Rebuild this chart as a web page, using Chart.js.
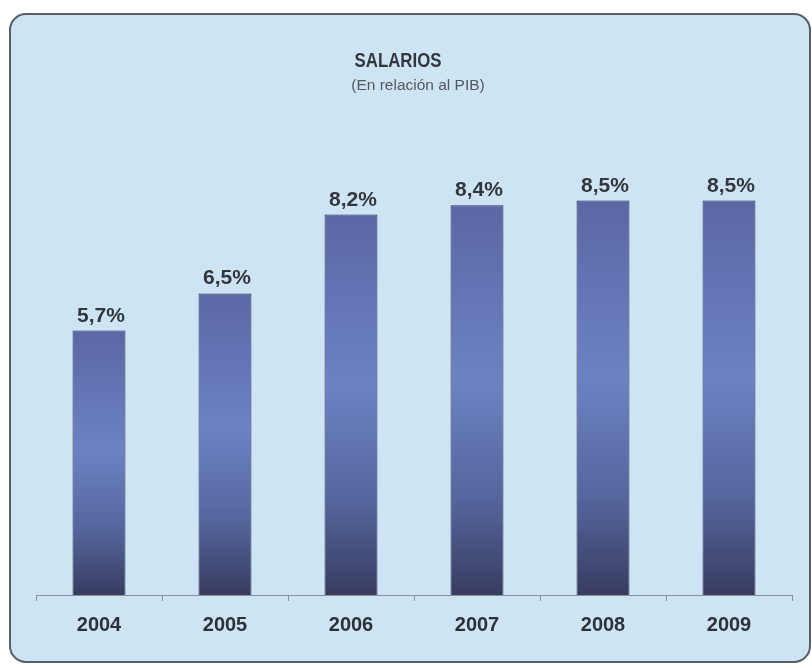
<!DOCTYPE html>
<html>
<head>
<meta charset="utf-8">
<script src="https://cdn.jsdelivr.net/npm/chart.js@4.4.0/dist/chart.umd.min.js"></script>
<style>
  html, body { margin: 0; padding: 0; background: #ffffff; }
  #wrap { width: 812px; height: 668px; }
</style>
</head>
<body>
<div id="wrap"><canvas id="myChart" width="812" height="668"></canvas></div>
<script>
// datos del grafico
var anios = ['2004', '2005', '2006', '2007', '2008', '2009'];
var salarios = [5.7, 6.5, 8.2, 8.4, 8.5, 8.5];
var titulo = 'SALARIOS';
var subtitulo = '(En relación al PIB)';

// fondo con borde redondeado
var fondo = {
    id: 'fondo',
    beforeDraw: function(chart) {
        var ctx = chart.ctx;
        ctx.save();
        ctx.beginPath();
        ctx.roundRect(10, 14, 800, 648, 16);
        ctx.fillStyle = '#cde4f4';
        ctx.fill();
        ctx.lineWidth = 2;
        ctx.strokeStyle = '#5a5e66';
        ctx.stroke();
        ctx.restore();
    },
    afterDraw: function(chart) {
        var ctx = chart.ctx;
        ctx.save();
        ctx.textAlign = 'center';
        ctx.textBaseline = 'alphabetic';
        ctx.fillStyle = '#33363d';
        ctx.translate(398, 67);
        ctx.scale(0.8, 1);
        ctx.font = 'bold 21px "Liberation Sans", Arial, sans-serif';
        ctx.fillText(titulo, 0, 0);
        ctx.restore();

        ctx.save();
        ctx.textAlign = 'center';
        ctx.fillStyle = '#55585e';
        ctx.font = '15.5px "Liberation Sans", Arial, sans-serif';
        ctx.fillText(subtitulo, 418, 90);
        ctx.restore();
    }
};

// etiquetas encima de cada barra
var etiquetas = {
    id: 'etiquetas',
    afterDatasetsDraw: function(chart) {
        var ctx = chart.ctx;
        var meta = chart.getDatasetMeta(0);
        ctx.save();
        ctx.font = 'bold 21px "Liberation Sans", Arial, sans-serif';
        ctx.fillStyle = '#33363d';
        ctx.textAlign = 'center';
        ctx.textBaseline = 'alphabetic';
        meta.data.forEach(function(bar, i) {
            var txt = salarios[i].toFixed(1).replace('.', ',') + '%';
            ctx.fillText(txt, bar.x + 2, bar.y - 9);
        });
        ctx.restore();
    }
};

function colorBarra(context) {
    var chart = context.chart;
    if (!chart.scales || !chart.scales.y || context.dataIndex === undefined) {
        return '#5a68a8';
    }
    var y0 = chart.scales.y.getPixelForValue(0);
    var y1 = chart.scales.y.getPixelForValue(salarios[context.dataIndex]);
    if (!isFinite(y0) || !isFinite(y1)) {
        return '#5a68a8';
    }
    var g = chart.ctx.createLinearGradient(0, y1, 0, y0);
    g.addColorStop(0, '#5b67a6');
    g.addColorStop(0.45, '#6c82c3');
    g.addColorStop(0.75, '#55669e');
    g.addColorStop(1, '#393c60');
    return g;
}

var canvas = document.getElementById('myChart').getContext('2d');
var chart = new Chart(canvas, {
    type: 'bar',
    data: {
        labels: anios,
        datasets: [{
            data: salarios,
            backgroundColor: colorBarra,
            borderColor: '#262a45',
            borderWidth: 1,
            borderSkipped: 'bottom',
            barPercentage: 0.84,
            categoryPercentage: 0.5
        }]
    },
    plugins: [fondo, etiquetas],
    options: {
        responsive: false,
        animation: false,
        layout: {
            padding: { top: 131, left: 36, right: 20, bottom: 19 }
        },
        plugins: {
            legend: { display: false },
            title: { display: false },
            tooltip: { enabled: false }
        },
        scales: {
            y: {
                display: false,
                min: 0,
                max: 10
            },
            x: {
                grid: {
                    display: true,
                    drawOnChartArea: false,
                    tickLength: 6,
                    color: '#8c9098',
                    offset: true
                },
                border: { display: true, color: '#8c9098', width: 1 },
                ticks: {
                    padding: 12,
                    color: '#2e3138',
                    font: { family: '"Liberation Sans", Arial, sans-serif', size: 20, weight: 'bold' }
                }
            }
        }
    }
});
</script>
</body>
</html>
